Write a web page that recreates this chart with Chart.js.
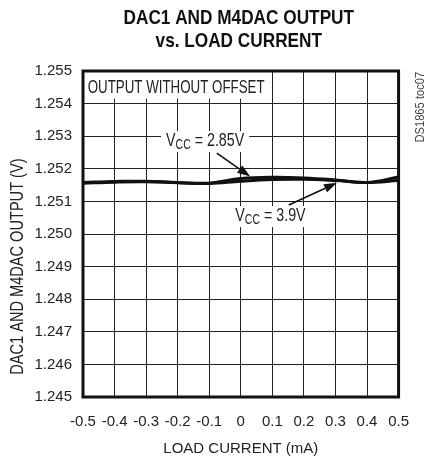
<!DOCTYPE html>
<html>
<head>
<meta charset="utf-8">
<script src="https://cdn.jsdelivr.net/npm/chart.js@4"></script>
<style>
  html, body { margin: 0; padding: 0; background: #fff; }
  #wrap { width: 425px; height: 458px; }
</style>
</head>
<body>
<div id="wrap"><canvas id="chart" width="425" height="458"></canvas></div>
<script>
// load current, mA
const loadCurrent = [-0.5, -0.4, -0.3, -0.2, -0.1, 0, 0.1, 0.2, 0.3, 0.4, 0.5];
// output voltage, V
const vcc285 = [1.25158, 1.25161, 1.25162, 1.25158, 1.25156, 1.25170, 1.25174, 1.25172, 1.25166, 1.25158, 1.25175];
const vcc39  = [1.25156, 1.25159, 1.25160, 1.25157, 1.25155, 1.25162, 1.25167, 1.25168, 1.25164, 1.25158, 1.25164];

const titleLines = ['DAC1 AND M4DAC OUTPUT', 'vs. LOAD CURRENT'];
const yTitle = 'DAC1 AND M4DAC OUTPUT (V)';
const xTitle = 'LOAD CURRENT (mA)';
const FONT = '"Liberation Sans", Arial, sans-serif';

// text helper, squeezed horizontally to look like Helvetica Condensed
function condText(ctx, text, x, y, size, sx, weight, align) {
  ctx.save();
  ctx.translate(x, y);
  ctx.scale(sx, 1);
  ctx.font = (weight || 'normal') + ' ' + size + 'px ' + FONT;
  ctx.textAlign = align || 'left';
  ctx.textBaseline = 'middle';
  ctx.fillText(text, 0, 0);
  ctx.restore();
}

// "VCC = x" label with subscript, centred on (cx, cy)
function vccLabel(ctx, value, cx, cy) {
  const sx = 0.75;
  ctx.save();
  ctx.font = '19px ' + FONT;
  const wV = ctx.measureText('V').width;
  const wRest = ctx.measureText(' = ' + value).width;
  ctx.font = '14px ' + FONT;
  const wSub = ctx.measureText('CC').width;
  ctx.restore();
  const total = (wV + wSub + wRest) * sx;
  const left = cx - total / 2;
  ctx.save();
  ctx.fillStyle = '#fff';
  ctx.fillRect(left - 5, cy - 10, total + 10, 21);
  ctx.restore();
  ctx.fillStyle = '#222';
  condText(ctx, 'V', left, cy, 19, sx);
  condText(ctx, 'CC', left + wV * sx, cy + 4, 14, sx);
  condText(ctx, ' = ' + value, left + (wV + wSub) * sx, cy, 19, sx);
}

function arrow(ctx, x1, y1, x2, y2) {
  const a = Math.atan2(y2 - y1, x2 - x1);
  const len = 13, half = 4.5;
  const bx = x2 - len * Math.cos(a), by = y2 - len * Math.sin(a);
  ctx.save();
  ctx.strokeStyle = '#111';
  ctx.fillStyle = '#111';
  ctx.lineWidth = 1.6;
  ctx.beginPath();
  ctx.moveTo(x1, y1);
  ctx.lineTo(bx, by);
  ctx.stroke();
  ctx.beginPath();
  ctx.moveTo(x2, y2);
  ctx.lineTo(bx + half * Math.sin(a), by - half * Math.cos(a));
  ctx.lineTo(bx - half * Math.sin(a), by + half * Math.cos(a));
  ctx.closePath();
  ctx.fill();
  ctx.restore();
}

const decorPlugin = {
  id: 'decor',
  afterDraw(chart) {
    const ctx = chart.ctx;
    const x = chart.scales.x, y = chart.scales.y;
    const area = chart.chartArea;
    const px = v => x.getPixelForValue(v);
    const py = v => y.getPixelForValue(v);

    // title
    ctx.fillStyle = '#111';
    const cx = (area.left + area.right) / 2 - 2;
    condText(ctx, titleLines[0], cx, 18, 21, 0.82, 'bold', 'center');
    condText(ctx, titleLines[1], cx, 41, 21, 0.82, 'bold', 'center');

    // y axis title
    ctx.save();
    ctx.translate(18, py(1.249));
    ctx.rotate(-Math.PI / 2);
    ctx.fillStyle = '#222';
    condText(ctx, yTitle, 0, 0, 18, 0.81, 'normal', 'center');
    ctx.restore();

    // "OUTPUT WITHOUT OFFSET" box
    ctx.fillStyle = '#fff';
    ctx.fillRect(area.left, area.top, px(0.055) - area.left, py(1.25415) - area.top);
    ctx.fillStyle = '#222';
    condText(ctx, 'OUTPUT WITHOUT OFFSET', px(-0.485), py(1.25449), 18, 0.74);

    // curve labels and arrows
    vccLabel(ctx, '2.85V', px(-0.113), py(1.25285));
    arrow(ctx, px(-0.076), py(1.25248), px(0.03), py(1.25176));
    vccLabel(ctx, '3.9V', px(0.094), py(1.25055));
    arrow(ctx, px(0.152), py(1.25089), px(0.305), py(1.25157));

    // heavy frame
    ctx.save();
    ctx.strokeStyle = '#111';
    ctx.lineWidth = 3;
    ctx.strokeRect(area.left, area.top, area.right - area.left, area.bottom - area.top);
    ctx.restore();

    // figure id
    ctx.save();
    ctx.translate(421, py(1.25389));
    ctx.rotate(-Math.PI / 2);
    ctx.fillStyle = '#444';
    condText(ctx, 'DS1865 toc07', 0, 0, 12, 0.93, 'normal', 'center');
    ctx.restore();
  }
};

new Chart(document.getElementById('chart'), {
  type: 'line',
  data: {
    datasets: [
      {
        label: 'VCC = 2.85V',
        data: loadCurrent.map((v, i) => ({ x: v, y: vcc285[i] })),
        borderColor: '#111',
        borderWidth: 3,
        pointRadius: 0,
        tension: 0.4,
        fill: false
      },
      {
        label: 'VCC = 3.9V',
        data: loadCurrent.map((v, i) => ({ x: v, y: vcc39[i] })),
        borderColor: '#111',
        borderWidth: 3,
        pointRadius: 0,
        tension: 0.4,
        fill: false
      }
    ]
  },
  options: {
    responsive: false,
    animation: false,
    layout: { padding: { top: 71, right: 14, left: 0, bottom: 0 } },
    scales: {
      x: {
        type: 'linear',
        min: -0.5,
        max: 0.5,
        afterFit: s => { s.height = 61; },
        grid: { color: '#222', lineWidth: 1, drawTicks: false },
        border: { display: false },
        ticks: {
          stepSize: 0.1,
          padding: 16,
          color: '#222',
          font: { family: FONT, size: 15 },
          maxRotation: 0,
          callback: v => Math.abs(v) < 1e-9 ? '0' : v.toFixed(1)
        },
        title: {
          display: true,
          text: xTitle,
          color: '#222',
          font: { family: FONT, size: 15 },
          padding: { top: 0, bottom: 0 }
        }
      },
      y: {
        min: 1.245,
        max: 1.255,
        afterFit: s => { s.width = 83; },
        grid: { color: '#222', lineWidth: 1, drawTicks: false },
        border: { display: false },
        ticks: {
          stepSize: 0.001,
          padding: 11,
          color: '#222',
          font: { family: FONT, size: 15 },
          callback: v => v.toFixed(3)
        }
      }
    },
    plugins: {
      legend: { display: false },
      tooltip: { enabled: false },
      title: { display: false }
    }
  },
  plugins: [decorPlugin]
});
</script>
</body>
</html>
